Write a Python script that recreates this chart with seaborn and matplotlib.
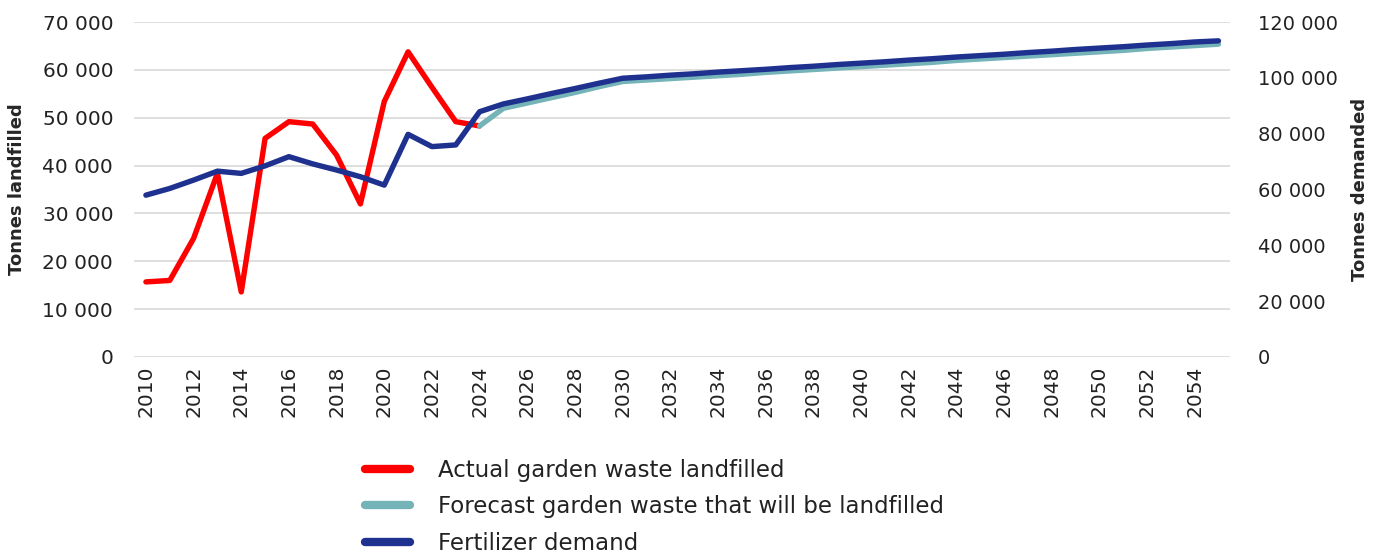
import matplotlib
matplotlib.use("Agg")
import matplotlib.pyplot as plt
from matplotlib.ticker import FuncFormatter
from matplotlib.lines import Line2D
import seaborn as sns
import pandas as pd

# Actual garden waste landfilled (tonnes), 2010-2024
actual_years = list(range(2010, 2025))
actual_tonnes = [15700, 16000, 24800, 38400, 13600, 45700, 49200, 48700,
                 42200, 32000, 53400, 63800, 56400, 49200, 48300]

# Forecast garden waste that will be landfilled (tonnes), 2024-2055
forecast_years = list(range(2024, 2056))
forecast_tonnes = [48300, 52000, 53100, 54200, 55300, 56500, 57600,
                   57900, 58200, 58500, 58800, 59100, 59500, 59800, 60100,
                   60400, 60700, 61000, 61300, 61600, 62000, 62300, 62600,
                   62900, 63200, 63500, 63800, 64100, 64500, 64800, 65100,
                   65400]

# Fertilizer demand (tonnes), 2010-2055
demand_years = list(range(2010, 2056))
demand_tonnes = [58000, 60400, 63400, 66600, 65800, 68500, 71800, 69200,
                 67000, 64600, 61600, 79800, 75400, 76000, 87900, 90700,
                 92500, 94400, 96200, 98100, 99900, 100400, 101000, 101500,
                 102100, 102600, 103100, 103700, 104200, 104800, 105300,
                 105800, 106400, 106900, 107500, 108000, 108500, 109100,
                 109600, 110200, 110700, 111200, 111800, 112300, 112900,
                 113300]

tick_years = list(range(2010, 2055, 2))

label_actual = "Actual garden waste landfilled"
label_forecast = "Forecast garden waste that will be landfilled"
label_demand = "Fertilizer demand"

c_actual = "#FF0000"
c_forecast = "#74B3B8"
c_demand = "#1F318F"

sns.set_style("white")
plt.rcParams["font.family"] = ["DejaVu Sans"]

df_actual = pd.DataFrame({"year": actual_years, "tonnes": actual_tonnes})
df_forecast = pd.DataFrame({"year": forecast_years, "tonnes": forecast_tonnes})
df_demand = pd.DataFrame({"year": demand_years, "tonnes": demand_tonnes})

fig = plt.figure(figsize=(13.73, 5.54), dpi=100)
ax = fig.add_axes([0.0976, 0.3556, 0.7985, 0.6044])
ax2 = ax.twinx()

lw = 3.9
sns.lineplot(data=df_actual, x="year", y="tonnes", ax=ax, color=c_actual,
             linewidth=lw, solid_capstyle="round", solid_joinstyle="round")
sns.lineplot(data=df_forecast, x="year", y="tonnes", ax=ax, color=c_forecast,
             linewidth=lw, solid_capstyle="round", solid_joinstyle="round")
sns.lineplot(data=df_demand, x="year", y="tonnes", ax=ax2, color=c_demand,
             linewidth=lw, solid_capstyle="round", solid_joinstyle="round")

thousands = FuncFormatter(lambda v, p: f"{int(v):,}".replace(",", " "))

ax.set_xlim(2009.5, 2055.5)
ax.set_ylim(0, 70000)
ax.set_yticks(range(0, 70001, 10000))
ax.yaxis.set_major_formatter(thousands)
ax2.set_ylim(0, 120000)
ax2.set_yticks(range(0, 120001, 20000))
ax2.yaxis.set_major_formatter(thousands)

ax.set_xticks(tick_years)
ax.set_xticklabels([str(y) for y in tick_years], rotation=90)

ax.grid(axis="y", color="#D9D9D9", linewidth=1.2)
ax.grid(axis="x", visible=False)
ax2.grid(False)
for a in (ax, ax2):
    for s in a.spines.values():
        s.set_visible(False)
    a.tick_params(length=0, labelsize=14.5, colors="#222222")

ax.tick_params(axis="y", pad=15)
ax2.tick_params(axis="y", labelsize=14, pad=20)
ax.tick_params(axis="x", pad=6)

ax.set_xlabel("")
ax.set_ylabel("Tonnes landfilled", fontsize=13, fontweight="bold", labelpad=12)
ax2.set_ylabel("Tonnes demanded", fontsize=13, fontweight="bold", labelpad=9)

handles = [Line2D([], [], color=c, linewidth=6, solid_capstyle="round")
           for c in (c_actual, c_forecast, c_demand)]
fig.legend(handles, [label_actual, label_forecast, label_demand],
           loc="upper left", bbox_to_anchor=(0.266, 0.172),
           frameon=False, fontsize=16.5, handlelength=1.97, handletextpad=1.2,
           labelspacing=0.6, borderaxespad=0, borderpad=0,
           labelcolor="#222222")

fig.savefig("out.png", dpi=100)
